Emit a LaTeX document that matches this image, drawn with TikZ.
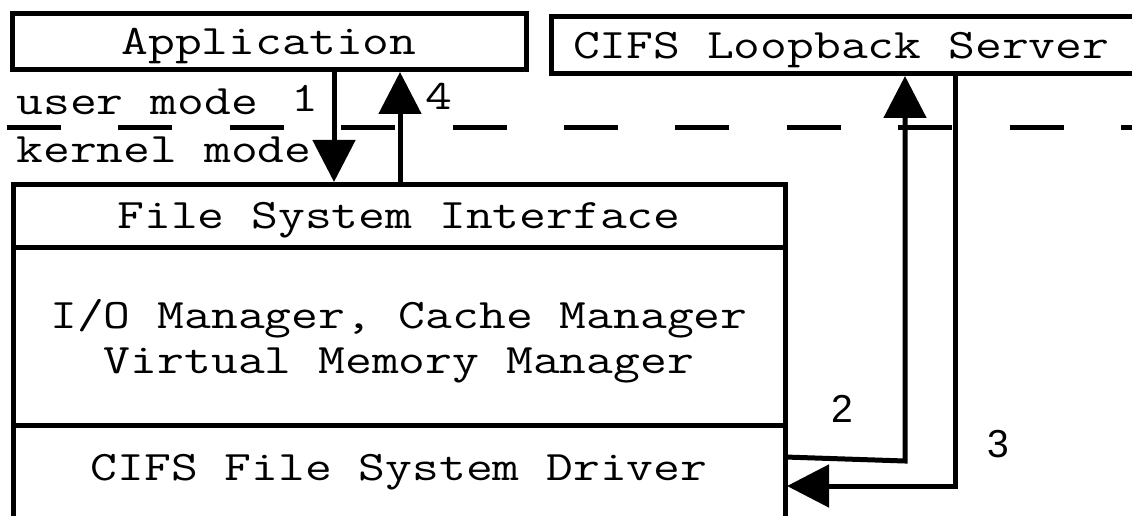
\documentclass[tikz,border=0pt]{standalone}
\usepackage{fontspec}
\usepackage{tikz}
\usetikzlibrary{arrows.meta, positioning, calc}
\newfontfamily\monof[FakeStretch=1.24]{Latin Modern Mono}
\newfontfamily\digf{Liberation Sans}

\begin{document}
\begin{tikzpicture}[x=1pt, y=-1pt, line width=5pt,
    box/.style={draw, rectangle, outer sep=0pt, inner sep=0pt, align=center,
        font=\monof\fontsize{42}{45}\selectfont},
    one/.style={text height=26pt, text depth=0pt},
    lbl/.style={inner sep=0pt, font=\monof\fontsize{42}{45}\selectfont},
    num/.style={inner sep=0pt, font=\digf\fontsize{39}{39}\selectfont},
    arr/.style={-{Triangle[length=42pt, width=42pt]}, shorten >=2pt}]
    \useasboundingbox (0,0) rectangle (1132,516);
    \clip (0,0) rectangle (1132,516);
    % User mode boxes
    \node[box, one, minimum width=514pt, minimum height=56pt, anchor=north west] (app) at (12,14) {Application};
    \node[box, one, minimum height=57pt, inner xsep=22pt, anchor=north west] (srv) at (551,17) {CIFS Loopback Server\hspace*{60pt}};
    % Kernel stack
    \node[box, one, minimum width=772pt, minimum height=63pt, anchor=north west] (fsi) at (13,184) {File System Interface};
    \node[box, minimum width=772pt, minimum height=178pt, text depth=0pt, below=0pt of fsi] (mgr) {I/O Manager, Cache Manager\\Virtual Memory Manager};
    \node[box, minimum width=772pt, minimum height=150pt, text height=26pt, text depth=66pt, below=0pt of mgr] (drv) {CIFS File System Driver};
    % Mode boundary
    \draw[dash pattern=on 54pt off 57.4pt] (7,128) -- (1140,128);
    \node[lbl, anchor=base west] (um) at (14,115) {user mode};
    \node[lbl, anchor=base west] (km) at (14,162) {kernel mode};
    % Request path
    \coordinate (c1) at (334,128);
    \coordinate (c4) at (400,128);
    \coordinate (c2) at (905,461);
    \coordinate (c3) at (955,486);
    \draw[arr] (app.south -| c1) -- (fsi.north -| c1);
    \draw[arr] ($(drv.north east)+(0,32)$) -- (c2) -- (c2 |- srv.south);
    \draw[arr] (c3 |- srv.south) -- (c3) -- (drv.east |- c3);
    \draw[arr] (fsi.north -| c4) -- (app.south -| c4);
    \node[lbl, anchor=base] (n1) at (305,112) {1};
    \node[num] (n2) at (842,409) {2};
    \node[num] (n3) at (998,444) {3};
    \node[lbl, anchor=base] (n4) at (439,110) {4};
\end{tikzpicture}
\end{document}
